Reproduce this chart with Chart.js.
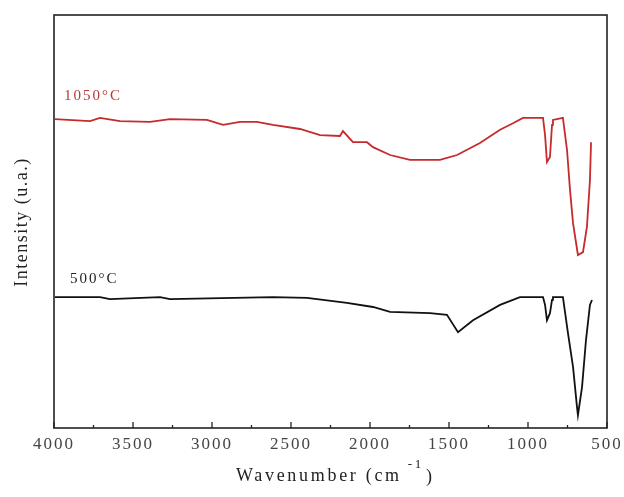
<!DOCTYPE html>
<html>
<head>
<meta charset="utf-8">
<script src="https://cdn.jsdelivr.net/npm/chart.js@4.4.1/dist/chart.umd.min.js"></script>
<style>
  html, body { margin: 0; padding: 0; background: #fff; }
  #wrap { width: 624px; height: 497px; position: relative; }
</style>
</head>
<body>
<div id="wrap"><canvas id="c" width="624" height="497"></canvas></div>
<script>
// Wavenumber (cm-1) and intensity (a.u.)
const wn1050 = [3994, 3772, 3709, 3582, 3392, 3266, 3032, 2930, 2823, 2716, 2614, 2443, 2316, 2190, 2171, 2108, 2019, 1981, 1873, 1747, 1557, 1449, 1304, 1177, 1095, 1032, 905, 892, 880, 861, 848, 842, 779, 753, 734, 715, 684, 652, 627, 608, 601];
const int1050 = [74.8, 74.3, 75.1, 74.3, 74.1, 74.8, 74.6, 73.4, 74.1, 74.1, 73.4, 72.4, 70.9, 70.7, 71.9, 69.2, 69.2, 68.0, 66.1, 64.9, 64.9, 66.1, 69.0, 72.2, 73.8, 75.1, 75.1, 70.9, 64.4, 65.6, 73.4, 74.6, 75.1, 67.3, 57.6, 49.6, 41.9, 42.6, 48.7, 60.0, 69.2];
const wn500 = [3994, 3709, 3646, 3329, 3266, 2614, 2399, 2146, 1981, 1873, 1620, 1513, 1443, 1348, 1177, 1051, 905, 892, 880, 861, 848, 842, 779, 747, 715, 690, 684, 658, 633, 608, 595];
const int500 = [31.7, 31.7, 31.2, 31.7, 31.2, 31.7, 31.5, 30.3, 29.3, 28.1, 27.8, 27.4, 23.2, 26.1, 29.8, 31.7, 31.7, 29.8, 26.1, 27.8, 31.0, 31.7, 31.7, 23.0, 14.8, 5.1, 3.1, 9.9, 21.3, 29.8, 31.0];
const seriesNames = ['1050°C', '500°C'];
const xTicks = [4000, 3500, 3000, 2500, 2000, 1500, 1000, 500];

const toXY = (xs, ys) => xs.map((x, i) => ({ x: x, y: ys[i] }));
const SERIF = '"Liberation Serif", "DejaVu Serif", serif';

const framePlugin = {
  id: 'frame',
  beforeDraw(chart) {
    chart.ctx.letterSpacing = '2px';
  },
  afterDatasetsDraw(chart) {
    const { ctx, chartArea: a, scales } = chart;
    const xs = scales.x;
    ctx.save();
    ctx.letterSpacing = '0px';
    ctx.strokeStyle = '#222';
    ctx.lineWidth = 1.6;
    ctx.strokeRect(a.left, a.top, a.right - a.left, a.bottom - a.top);
    // inward ticks: major 500, minor 250
    ctx.lineWidth = 1.3;
    for (let v = 500; v <= 4000; v += 250) {
      const px = xs.getPixelForValue(v);
      const len = (v % 500 === 0) ? 6 : 3;
      ctx.beginPath();
      ctx.moveTo(px, a.bottom);
      ctx.lineTo(px, a.bottom - len);
      ctx.stroke();
    }
    // series labels
    ctx.letterSpacing = '2px';
    ctx.font = '15px ' + SERIF;
    ctx.textBaseline = 'middle';
    ctx.textAlign = 'left';
    ctx.fillStyle = '#b8383a';
    ctx.fillText(seriesNames[0], 64, 96);
    ctx.fillStyle = '#222';
    ctx.fillText(seriesNames[1], 70, 279);
    // x title with superscript
    ctx.fillStyle = '#222';
    ctx.textBaseline = 'alphabetic';
    ctx.letterSpacing = '2.7px';
    ctx.font = '18px ' + SERIF;
    const t1 = 'Wavenumber (cm', sup = '-1', t3 = ')';
    const w1 = ctx.measureText(t1).width;
    ctx.font = '13px ' + SERIF;
    const w2 = ctx.measureText(sup).width;
    let sx = 236;
    ctx.font = '18px ' + SERIF;
    ctx.fillText(t1, sx, 481);
    ctx.font = '13px ' + SERIF;
    ctx.fillText(sup, sx + w1 + 6, 468);
    ctx.font = '18px ' + SERIF;
    ctx.fillText(t3, sx + w1 + w2 + 8, 482);
    // y title
    ctx.letterSpacing = '1.5px';
    ctx.textBaseline = 'middle';
    ctx.translate(22, 222);
    ctx.rotate(-Math.PI / 2);
    ctx.textAlign = 'center';
    ctx.fillText('Intensity (u.a.)', 0, 0);
    ctx.restore();
  },
  afterDraw(chart) {
    chart.ctx.letterSpacing = '0px';
  }
};

new Chart(document.getElementById('c'), {
  type: 'line',
  data: {
    datasets: [
      { label: seriesNames[0], data: toXY(wn1050, int1050), borderColor: '#c62a2c', borderWidth: 1.8, pointRadius: 0, tension: 0, fill: false },
      { label: seriesNames[1], data: toXY(wn500, int500), borderColor: '#111', borderWidth: 1.8, pointRadius: 0, tension: 0, fill: false }
    ]
  },
  options: {
    responsive: false,
    animation: false,
    layout: { padding: { left: 54, right: 17, top: 15, bottom: 0 } },
    plugins: { legend: { display: false }, tooltip: { enabled: false } },
    scales: {
      x: {
        type: 'linear',
        reverse: true,
        min: 500,
        max: 4000,
        grid: { display: false, drawTicks: false },
        border: { display: false },
        afterFit: (s) => { s.height = 69; s.paddingLeft = 0; s.paddingRight = 0; },
        afterBuildTicks: (s) => { s.ticks = xTicks.map(v => ({ value: v })); },
        ticks: {
          autoSkip: false,
          maxRotation: 0,
          padding: 6,
          color: '#444',
          font: { family: SERIF, size: 17 },
          callback: (v) => String(v)
        }
      },
      y: {
        display: false,
        min: 0,
        max: 100
      }
    }
  },
  plugins: [framePlugin]
});
</script>
</body>
</html>
